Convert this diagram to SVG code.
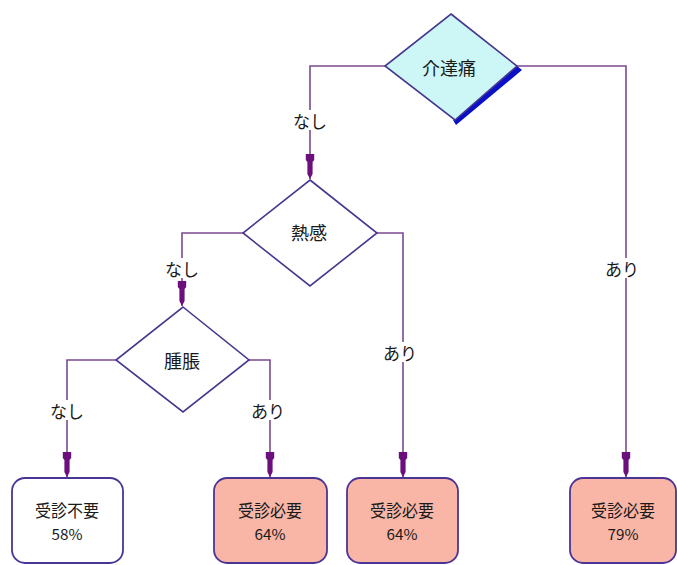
<svg xmlns="http://www.w3.org/2000/svg" width="677" height="565" viewBox="0 0 677 565">
<defs>
<style>
.conn{fill:none;stroke:#7b4a8e;stroke-width:1.6}
.dia{stroke:#46388e;stroke-width:1.6}
.box{stroke:#4a3596;stroke-width:1.8}
.t{font-family:"Noto Sans CJK JP","Liberation Sans",sans-serif;fill:#1a1a1a;text-anchor:middle;dominant-baseline:central}
.lbl{font-size:17px}
.dl{font-size:18px}
.bt{font-size:17px}
.bp{font-size:15px}
.bg{fill:#ffffff}
</style>
<marker id="arr" markerUnits="userSpaceOnUse" markerWidth="30" markerHeight="12" viewBox="-26 -6 28 12" refX="0" refY="0" orient="auto">
<path d="M0,0 L-5,-2.6 L-17,-2.6 L-19,-4.2 L-25,-4.2 L-25,4.2 L-19,4.2 L-17,2.6 L-5,2.6 Z" fill="#6c0f7c"/>
</marker>
</defs>
<rect width="677" height="565" fill="#ffffff"/>
<g id="connectors">
<path class="conn" d="M385,66 H310 V179" marker-end="url(#arr)"/>
<path class="conn" d="M517,66 H626 V477" marker-end="url(#arr)"/>
<path class="conn" d="M243,233 H182 V306" marker-end="url(#arr)"/>
<path class="conn" d="M377,233 H403 V477" marker-end="url(#arr)"/>
<path class="conn" d="M116,360 H67 V477" marker-end="url(#arr)"/>
<path class="conn" d="M249,360 H270 V477" marker-end="url(#arr)"/>
<rect class="bg" x="294" y="110" width="32" height="20"/>
<text class="t lbl" x="310" y="120">なし</text>
<rect class="bg" x="608" y="258" width="28" height="20"/>
<text class="t lbl" x="622" y="268">あり</text>
<rect class="bg" x="166" y="258" width="32" height="20"/>
<text class="t lbl" x="182" y="268">なし</text>
<rect class="bg" x="386" y="342" width="30" height="20"/>
<text class="t lbl" x="400" y="352">あり</text>
<rect class="bg" x="51" y="400" width="32" height="20"/>
<text class="t lbl" x="67" y="410">なし</text>
<rect class="bg" x="254" y="400" width="30" height="20"/>
<text class="t lbl" x="268" y="410">あり</text>
</g>
<g id="node-kaitatsutsu">
<polygon points="517,66 522,70 456,125 453,120" fill="#0a10c8"/>
<polygon class="dia" points="451,14 517,66 455,120 385,66" fill="#cdf6f6"/>
<text class="t dl" x="449" y="67">介達痛</text>
</g>
<g id="node-netsukan">
<polygon class="dia" points="310,180 377,233 310,286 243,233" fill="#ffffff"/>
<text class="t dl" x="309" y="232">熱感</text>
</g>
<g id="node-shuchou">
<polygon class="dia" points="183,307 249,360 183,412 116,360" fill="#ffffff"/>
<text class="t dl" x="182" y="360">腫脹</text>
</g>
<g id="node-fuyou">
<rect class="box" x="12" y="478" width="111" height="85" rx="13" fill="#ffffff"/>
<text class="t bt" x="67" y="509" textLength="64" lengthAdjust="spacingAndGlyphs">受診不要</text>
<text class="t bp" x="67" y="533" textLength="31" lengthAdjust="spacingAndGlyphs">58%</text>
</g>
<g id="node-hitsuyou1">
<rect class="box" x="214" y="478" width="113" height="85" rx="13" fill="#f9b5a6"/>
<text class="t bt" x="270" y="509" textLength="64" lengthAdjust="spacingAndGlyphs">受診必要</text>
<text class="t bp" x="270" y="533" textLength="31" lengthAdjust="spacingAndGlyphs">64%</text>
</g>
<g id="node-hitsuyou2">
<rect class="box" x="347" y="478" width="111" height="85" rx="13" fill="#f9b5a6"/>
<text class="t bt" x="402" y="509" textLength="64" lengthAdjust="spacingAndGlyphs">受診必要</text>
<text class="t bp" x="402" y="533" textLength="31" lengthAdjust="spacingAndGlyphs">64%</text>
</g>
<g id="node-hitsuyou3">
<rect class="box" x="570" y="478" width="106" height="85" rx="13" fill="#f9b5a6"/>
<text class="t bt" x="623" y="509" textLength="64" lengthAdjust="spacingAndGlyphs">受診必要</text>
<text class="t bp" x="623" y="533" textLength="31" lengthAdjust="spacingAndGlyphs">79%</text>
</g>
</svg>
